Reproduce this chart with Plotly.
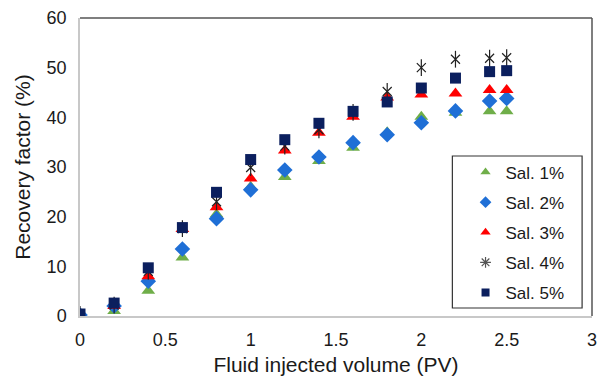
import plotly.graph_objects as go

pv = [0, 0.2, 0.4, 0.6, 0.8, 1.0, 1.2, 1.4, 1.6, 1.8, 2.0, 2.2, 2.4, 2.5]
sal1 = [0.2, 1.0, 5.1, 11.8, 20.5, 26.0, 28.0, 31.2, 33.9, 37.0, 40.1, 40.9, 41.2, 41.2]
sal2 = [0.2, 2.0, 7.0, 13.5, 19.6, 25.4, 29.4, 32.0, 34.9, 36.5, 38.9, 41.3, 43.3, 43.8]
sal3 = [0.0, 2.0, 8.0, 17.5, 21.9, 27.7, 33.3, 36.9, 40.1, 44.0, 44.6, 44.8, 45.5, 45.5]
sal4 = [0.3, 2.2, 9.0, 17.6, 23.0, 29.9, 34.2, 37.5, 41.0, 45.2, 50.0, 51.7, 51.9, 52.0]
sal5 = [0.4, 2.6, 9.7, 17.8, 24.9, 31.5, 35.5, 38.8, 41.2, 43.1, 45.9, 47.9, 49.2, 49.4]
names = ["Sal. 1%", "Sal. 2%", "Sal. 3%", "Sal. 4%", "Sal. 5%"]

GREEN, BLUE, RED, DARK, NAVY = "#6FAE49", "#1F6FD6", "#FF0000", "#222222", "#0B1F5E"

fig = go.Figure()
# data traces
fig.add_trace(go.Scatter(x=pv, y=sal1, mode="markers", name=names[0], showlegend=False,
                         marker=dict(symbol="triangle-up", size=12, color=GREEN)))
fig.add_trace(go.Scatter(x=pv, y=sal2, mode="markers", name=names[1], showlegend=False,
                         marker=dict(symbol="diamond", size=12, color=BLUE)))
fig.add_trace(go.Scatter(x=pv, y=sal3, mode="markers", name=names[2], showlegend=False,
                         marker=dict(symbol="triangle-up", size=12, color=RED)))
fig.add_trace(go.Scatter(x=pv, y=sal4, mode="markers", name=names[3], showlegend=False,
                         marker=dict(symbol="x-thin-open", size=9, color=DARK,
                                     line=dict(color=DARK, width=1.2))))
fig.add_trace(go.Scatter(x=pv, y=sal4, mode="markers", name=names[3], showlegend=False,
                         marker=dict(symbol="line-ns-open", size=12, color=DARK,
                                     line=dict(color=DARK, width=1.2))))
fig.add_trace(go.Scatter(x=pv, y=sal5, mode="markers", name=names[4], showlegend=False,
                         marker=dict(symbol="square", size=11, color=NAVY)))

# legend entries (smaller symbols, as in the reference legend)
leg_styles = [
    dict(symbol="triangle-up", size=9, color=GREEN),
    dict(symbol="diamond", size=9, color=BLUE),
    dict(symbol="triangle-up", size=9, color=RED),
    dict(symbol="asterisk-open", size=9, color="#555555", line=dict(color="#555555", width=1.2)),
    dict(symbol="square", size=8, color=NAVY),
]
for i, (nm, st) in enumerate(zip(names, leg_styles)):
    fig.add_trace(go.Scatter(x=[None], y=[None], mode="markers", name=nm,
                             legendgroup=f"g{i}", marker=st))

font_family = "Liberation Sans, Arial, sans-serif"
fig.update_layout(
    width=602, height=378,
    margin=dict(l=80, r=5, t=18, b=62),
    paper_bgcolor="white", plot_bgcolor="white",
    font=dict(family=font_family, size=18, color="#1a1a1a"),
    showlegend=True,
    legend=dict(x=0.753, y=0.542, xanchor="left", yanchor="top",
                borderwidth=0, bgcolor="rgba(0,0,0,0)",
                font=dict(size=17), tracegroupgap=5, traceorder="grouped",
                itemwidth=30),
    xaxis=dict(range=[0, 3], tickvals=[0, 0.5, 1, 1.5, 2, 2.5, 3],
               ticktext=["0", "0.5", "1", "1.5", "2", "2.5", "3"],
               showgrid=False, zeroline=False, showline=True,
               linecolor="#c8c8c8", linewidth=1.5, ticks="", ticklabelstandoff=7,
               ticklabeloverflow="allow",
               title=dict(text="Fluid injected volume (PV)", font=dict(size=21), standoff=8)),
    yaxis=dict(range=[0, 60], tickvals=[0, 10, 20, 30, 40, 50, 60],
               showgrid=False, zeroline=False, showline=True,
               linecolor="#c8c8c8", linewidth=1.5, ticks="", ticklabelstandoff=8,
               title=dict(text="Recovery factor (%)", font=dict(size=21), standoff=10)),
    shapes=[
        dict(type="line", xref="paper", yref="paper", x0=0, x1=1, y0=1, y1=1,
             line=dict(color="#555555", width=1.5)),
        dict(type="line", xref="paper", yref="paper", x0=1, x1=1, y0=0, y1=1,
             line=dict(color="#555555", width=1.5)),
        dict(type="rect", xref="paper", yref="paper",
             x0=(456 - 80) / 517, x1=(587 - 80) / 517,
             y0=(316 - 308) / 298, y1=(316 - 156) / 298,
             line=dict(color="#333333", width=1.2), fillcolor="rgba(0,0,0,0)"),
    ],
)

fig.write_html("out.html")
